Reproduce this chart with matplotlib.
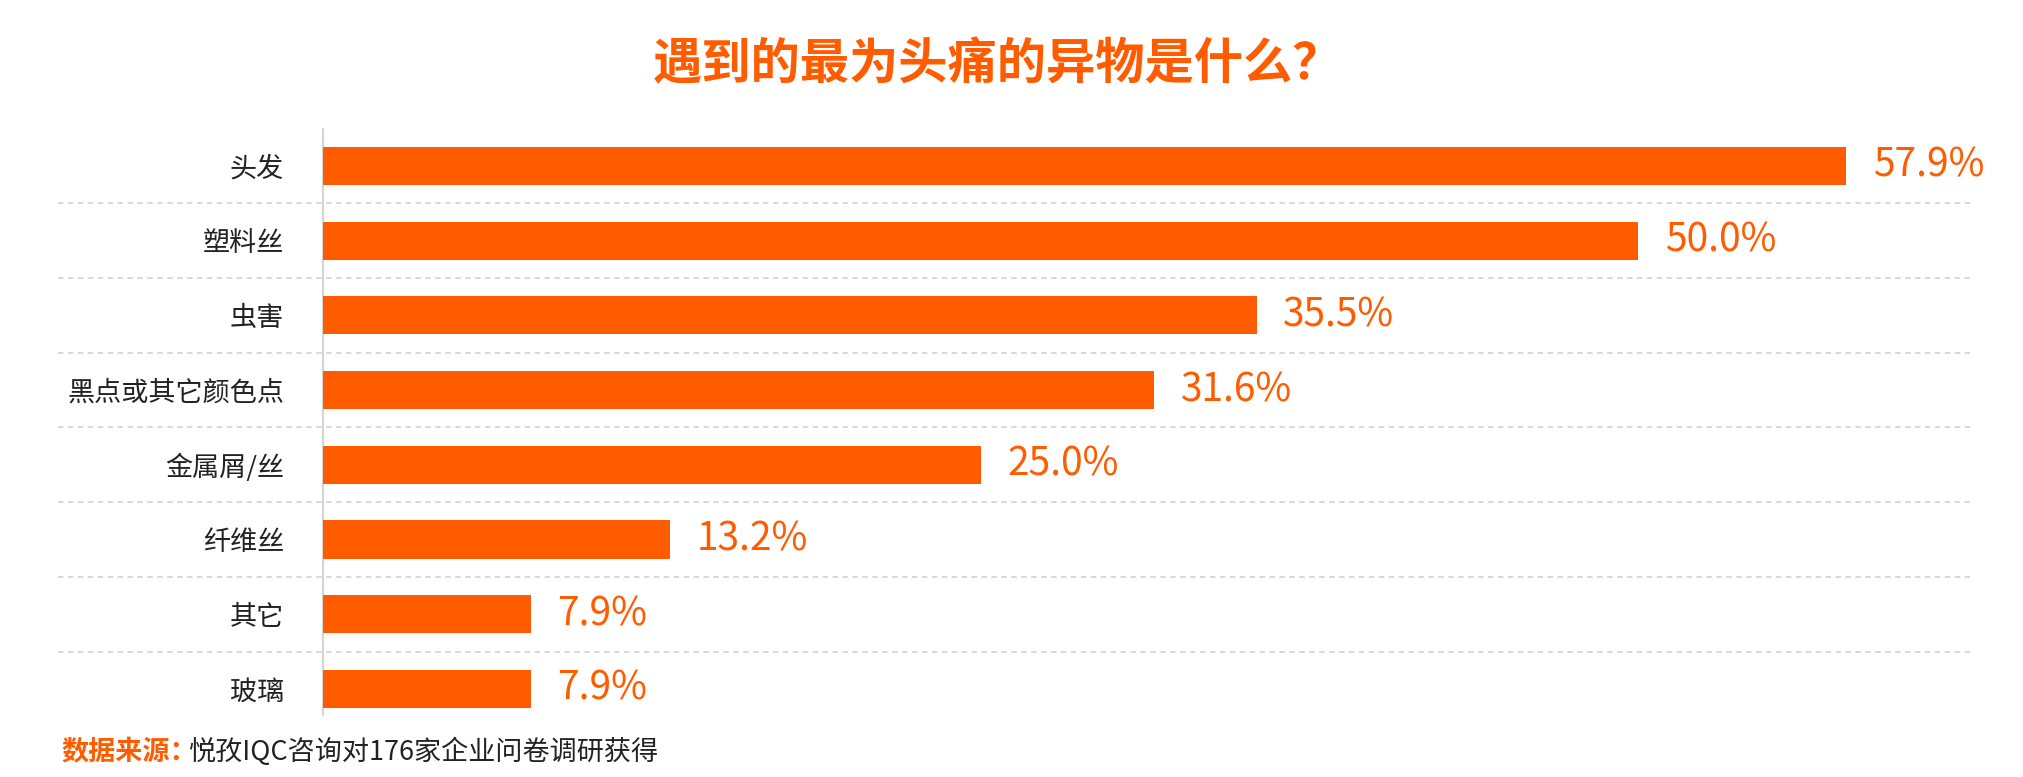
import matplotlib
matplotlib.use("Agg")
import matplotlib.pyplot as plt
from matplotlib.transforms import blended_transform_factory

# ---- data ----
categories = ["头发", "塑料丝", "虫害", "黑点或其它颜色点", "金属屑/丝", "纤维丝", "其它", "玻璃"]
values = [57.9, 50.0, 35.5, 31.6, 25.0, 13.2, 7.9, 7.9]
value_labels = ["57.9%", "50.0%", "35.5%", "31.6%", "25.0%", "13.2%", "7.9%", "7.9%"]
title = "遇到的最为头痛的异物是什么？"
source_head = "数据来源："
source_body = "悦孜IQC咨询对176家企业问卷调研获得"

ORANGE = "#FF5C00"
FONT = ["Noto Sans CJK SC", "DejaVu Sans"]
plt.rcParams["font.family"] = FONT

W, H = 2023, 777
fig = plt.figure(figsize=(W / 100, H / 100), dpi=100)
fig.patch.set_facecolor("white")

ax = fig.add_axes([323 / W, (H - 715) / H, 1647 / W, 586 / H])
ypos = list(range(len(categories)))
ax.barh(ypos, values, height=0.51, color=ORANGE, zorder=3)
ax.set_xlim(0, 62.6)
ax.set_ylim(len(categories) - 0.65, -0.495)

for y, v, lab in zip(ypos, values, value_labels):
    ax.annotate(lab, (v, y), xytext=(19, 0), textcoords="offset points",
                va="center", ha="left", fontsize=28, color=ORANGE,
                annotation_clip=False)

ax.set_yticks(ypos)
ax.set_yticklabels(categories, fontsize=19.5, color="#222222")
ax.tick_params(axis="y", length=0, pad=28)
ax.set_xticks([])
for s in ["top", "right", "bottom"]:
    ax.spines[s].set_visible(False)
ax.spines["left"].set_color("#d4d4d4")
ax.spines["left"].set_linewidth(1.5)
ax.patch.set_alpha(0)

# dashed separators spanning label area and plot
trans = blended_transform_factory(fig.transFigure, ax.transData)
for i in range(len(categories) - 1):
    ax.plot([58 / W, 1970 / W], [i + 0.5, i + 0.5], transform=trans,
            color="#d6d6d6", lw=1.3, ls=(0, (3, 2.5)), clip_on=False, zorder=1)

# title
fig.text(997 / W, 1 - 65 / H, title, ha="center", va="center",
         fontsize=35.5, fontweight="bold", color=ORANGE)

# source line
t1 = fig.text(61 / W, 1 - 752 / H, source_head, ha="left", va="center",
              fontsize=19.5, fontweight="bold", color=ORANGE)
fig.canvas.draw()
bb = t1.get_window_extent(renderer=fig.canvas.get_renderer())
fig.text(bb.x1 / W - 0.004, 1 - 752 / H, source_body, ha="left", va="center",
         fontsize=19.5, color="#222222")

fig.savefig("out.png", dpi=100, facecolor="white")
